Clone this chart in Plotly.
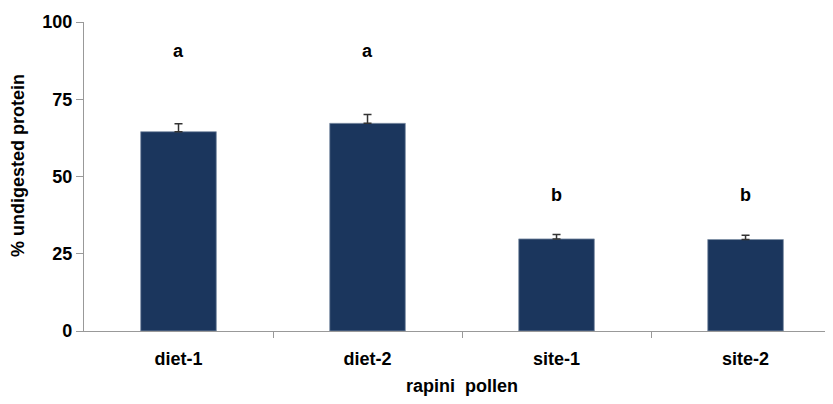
import plotly.graph_objects as go

categories = ["diet-1", "diet-2", "site-1", "site-2"]
values = [64.5, 67.2, 29.8, 29.6]
errors = [2.6, 2.9, 1.4, 1.4]
letters = ["a", "a", "b", "b"]
letter_y = [90.5, 90.5, 44.0, 44.0]
y_ticks = [0, 25, 50, 75, 100]

xpos = list(range(len(categories)))
FAM = "Liberation Sans, Arial, sans-serif"

fig = go.Figure()
fig.add_trace(go.Bar(
    x=xpos, y=values, width=0.4,
    marker=dict(color="#1b365d", line=dict(color="#7f8fa6", width=0.8)),
    error_y=dict(type="data", symmetric=False, array=errors, arrayminus=[0]*4,
                 color="#333333", thickness=1.5, width=4),
))

for x, t, ly in zip(xpos, letters, letter_y):
    fig.add_annotation(x=x, y=ly, text=f"<b>{t}</b>", showarrow=False,
                       font=dict(family=FAM, size=18, color="black"))

# axis titles
fig.add_annotation(xref="paper", yref="paper", x=0, y=0.534, xshift=-66,
                   xanchor="center", yanchor="middle", textangle=-90, showarrow=False,
                   text="<b>% undigested protein</b>", font=dict(family=FAM, size=18, color="black"))
fig.add_annotation(xref="paper", yref="paper", x=0.4987, y=0, yshift=-55,
                   xanchor="center", yanchor="middle", showarrow=False,
                   text="<b>rapini\u00a0\u00a0pollen</b>", font=dict(family=FAM, size=18, color="black"))

font_b = dict(family=FAM, size=18, color="black")

fig.update_layout(
    width=833, height=404,
    margin=dict(l=76, r=0, t=14, b=81),
    plot_bgcolor="white", paper_bgcolor="white",
    showlegend=False,
    font=font_b,
    xaxis=dict(
        range=[-0.5, 3.505], tickvals=xpos,
        ticktext=[f"<b>{c}</b>" for c in categories],
        ticks="", showgrid=False, zeroline=False, automargin=False,
        showline=True, linecolor="#999999", linewidth=1.2,
        tickfont=font_b, ticklabelstandoff=11,
        minor=dict(tickvals=[0.5, 1.5, 2.5], ticks="outside", ticklen=6,
                   tickcolor="#999999", tickwidth=1, showgrid=False),
    ),
    yaxis=dict(
        range=[0, 100], tickvals=y_ticks,
        ticktext=[f"<b>{v}</b>" for v in y_ticks],
        ticks="outside", ticklen=7, tickcolor="#999999", tickwidth=1,
        showgrid=False, zeroline=False, automargin=False,
        showline=True, linecolor="#999999", linewidth=1.2,
        tickfont=font_b,
    ),
)

fig.write_html("out.html")
